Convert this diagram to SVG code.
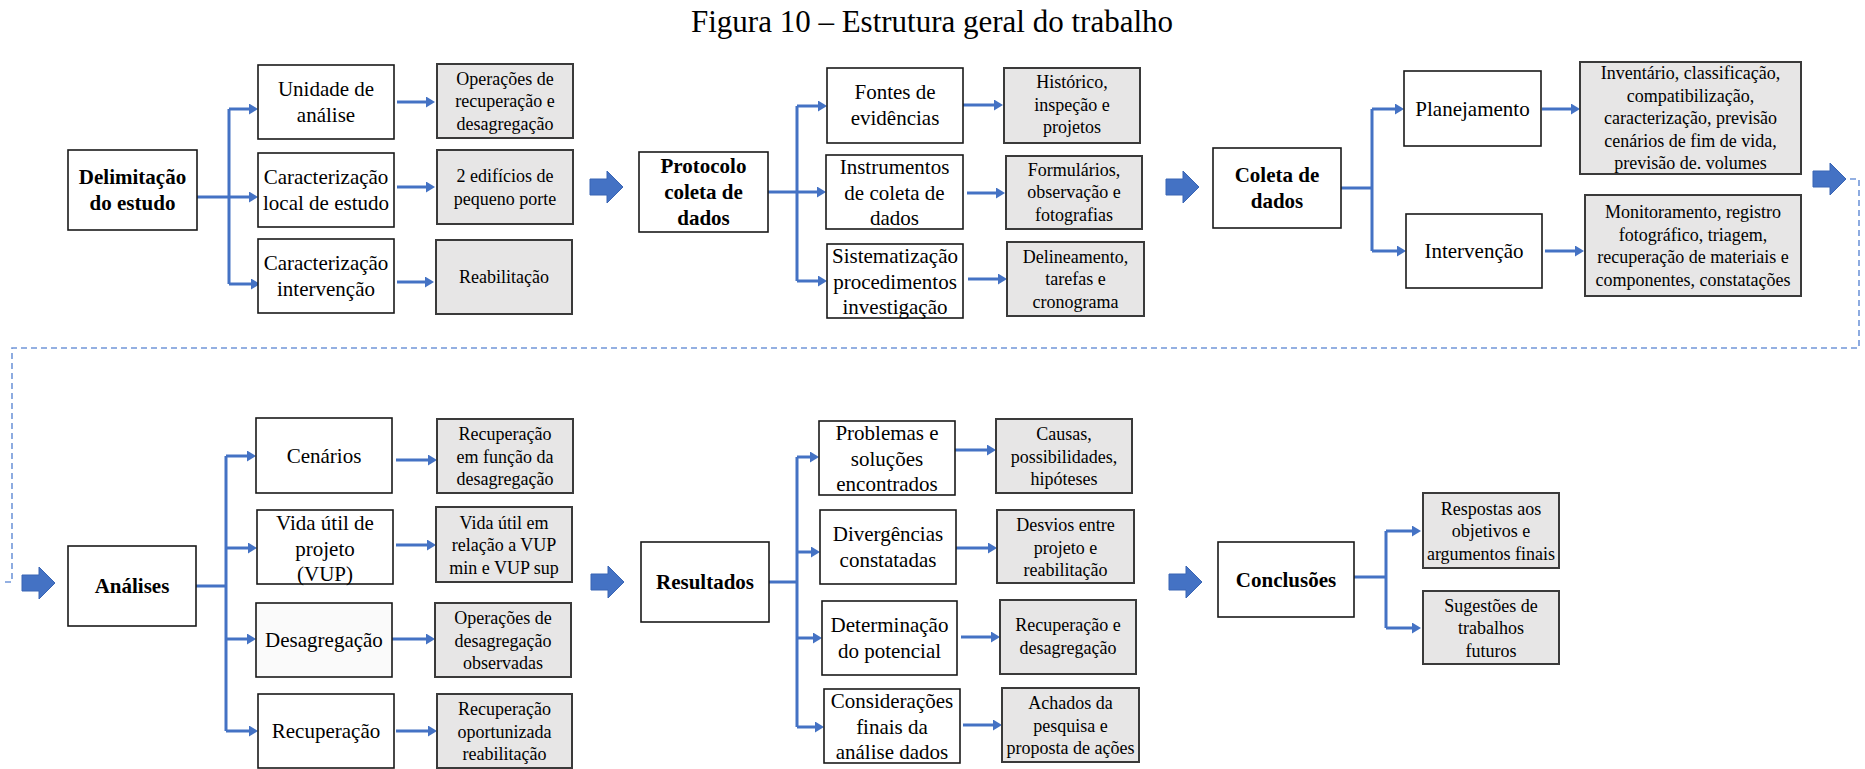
<svg xmlns="http://www.w3.org/2000/svg" xmlns:xlink="http://www.w3.org/1999/xlink" width="1865" height="769" viewBox="0 0 1865 769">
  <style>
    text { font-family: "Liberation Serif", "Times New Roman", serif; fill: #000; text-anchor: middle; }
    .title { font-size: 31px; }
    .t { font-size: 21px; }
    .tb { font-size: 21px; font-weight: bold; }
    .tg { font-size: 18px; }
    .box { fill: #ffffff; stroke: #1a1a1a; stroke-width: 1.6; }
    .gbox { fill: #e7e6e6; stroke: #3a3a3a; stroke-width: 2; }
    .link { fill: none; stroke: #4472c4; stroke-width: 3; }
    .arr { fill: none; stroke: #4472c4; stroke-width: 3; marker-end: url(#head); }
    .blk { fill: #4472c4; stroke: #3864b4; stroke-width: 1; }
    .dash { fill: none; stroke: #7196d9; stroke-width: 1.6; stroke-dasharray: 6 4; }
  </style>
  <defs>
    <marker id="head" markerUnits="userSpaceOnUse" markerWidth="10" markerHeight="11" refX="2" refY="5.5" orient="auto">
      <path d="M0,0 L9,5.5 L0,11 Z" fill="#4472c4"/>
    </marker>
    <path id="blk" d="M0,-8 H17 V-16 L33,0 L17,16 V8 H0 Z"/>
  </defs>

  <rect width="1865" height="769" fill="#ffffff"/>

  <text class="title" x="932" y="32">Figura 10 – Estrutura geral do trabalho</text>

  <!-- flow connectors -->
  <g id="connectors">
    <!-- Delimitação do estudo -->
    <path class="link" d="M197,197 H229 M229,109 V284"/>
    <path class="arr" d="M229,109 H251"/>
    <path class="arr" d="M229,197 H251"/>
    <path class="arr" d="M229,284 H253"/>
    <path class="arr" d="M397,102 H428"/>
    <path class="arr" d="M397,187 H428"/>
    <path class="arr" d="M397,282 H427"/>
    <!-- Protocolo coleta de dados -->
    <path class="link" d="M768,192 H797 M797,106 V281"/>
    <path class="arr" d="M797,106 H820"/>
    <path class="arr" d="M797,192 H819"/>
    <path class="arr" d="M797,281 H820"/>
    <path class="arr" d="M963,105 H996"/>
    <path class="arr" d="M967,193 H998"/>
    <path class="arr" d="M968,279 H1000"/>
    <!-- Coleta de dados -->
    <path class="link" d="M1341,188 H1372 M1372,109 V251"/>
    <path class="arr" d="M1372,109 H1397"/>
    <path class="arr" d="M1372,251 H1399"/>
    <path class="arr" d="M1542,109 H1573"/>
    <path class="arr" d="M1545,251 H1577"/>
    <!-- Análises -->
    <path class="link" d="M196,586 H226 M226,456 V731"/>
    <path class="arr" d="M226,456 H249"/>
    <path class="arr" d="M226,548 H250"/>
    <path class="arr" d="M226,639 H249"/>
    <path class="arr" d="M226,731 H251"/>
    <path class="arr" d="M396,460 H430"/>
    <path class="arr" d="M396,545 H429"/>
    <path class="arr" d="M392,639 H428"/>
    <path class="arr" d="M396,731 H430"/>
    <!-- Resultados -->
    <path class="link" d="M769,582 H797 M797,457 V727"/>
    <path class="arr" d="M797,457 H812"/>
    <path class="arr" d="M797,552 H813"/>
    <path class="arr" d="M797,638 H815"/>
    <path class="arr" d="M797,727 H817"/>
    <path class="arr" d="M955,450 H989"/>
    <path class="arr" d="M956,548 H990"/>
    <path class="arr" d="M961,637 H993"/>
    <path class="arr" d="M963,725 H995"/>
    <!-- Conclusões -->
    <path class="link" d="M1354,577 H1386 M1386,531 V628"/>
    <path class="arr" d="M1386,531 H1414"/>
    <path class="arr" d="M1386,628 H1414"/>
    <!-- stage arrows -->
    <use xlink:href="#blk" class="blk" x="590" y="187"/>
    <use xlink:href="#blk" class="blk" x="1166" y="187"/>
    <use xlink:href="#blk" class="blk" x="1813" y="179"/>
    <use xlink:href="#blk" class="blk" x="22" y="583"/>
    <use xlink:href="#blk" class="blk" x="591" y="582"/>
    <use xlink:href="#blk" class="blk" x="1169" y="582"/>
    <!-- wrap from first row to second row -->
    <path class="dash" d="M1850,179 H1859 V348 H12 V582 H5"/>
  </g>

  <!-- Row 1 -->
  <g id="delimitacao">
    <rect class="box" x="68" y="150" width="129" height="80"/>
    <text class="tb" x="132.5" y="184">Delimitação</text>
    <text class="tb" x="132.5" y="210">do estudo</text>
  </g>
  <g id="unidade">
    <rect class="box" x="258" y="65" width="136" height="74"/>
    <text class="t" x="326" y="96">Unidade de</text>
    <text class="t" x="326" y="122">análise</text>
  </g>
  <g id="caract-local">
    <rect class="box" x="258" y="153" width="136" height="74"/>
    <text class="t" x="326" y="184">Caracterização</text>
    <text class="t" x="326" y="210">local de estudo</text>
  </g>
  <g id="caract-intervencao">
    <rect class="box" x="258" y="239" width="136" height="74"/>
    <text class="t" x="326" y="270">Caracterização</text>
    <text class="t" x="326" y="296">intervenção</text>
  </g>
  <g id="operacoes-rec">
    <rect class="gbox" x="437" y="64" width="136" height="74"/>
    <text class="tg" x="505" y="84.5">Operações de</text>
    <text class="tg" x="505" y="107">recuperação e</text>
    <text class="tg" x="505" y="129.5">desagregação</text>
  </g>
  <g id="edificios">
    <rect class="gbox" x="437" y="150" width="136" height="74"/>
    <text class="tg" x="505" y="182">2 edifícios de</text>
    <text class="tg" x="505" y="204.5">pequeno porte</text>
  </g>
  <g id="reabilitacao">
    <rect class="gbox" x="436" y="240" width="136" height="74"/>
    <text class="tg" x="504" y="283">Reabilitação</text>
  </g>

  <g id="protocolo">
    <rect class="box" x="639" y="152" width="129" height="80"/>
    <text class="tb" x="703.5" y="173">Protocolo</text>
    <text class="tb" x="703.5" y="199">coleta de</text>
    <text class="tb" x="703.5" y="225">dados</text>
  </g>
  <g id="fontes">
    <rect class="box" x="827" y="68" width="136" height="75"/>
    <text class="t" x="895" y="99">Fontes de</text>
    <text class="t" x="895" y="125">evidências</text>
  </g>
  <g id="instrumentos">
    <rect class="box" x="826" y="155" width="137" height="74"/>
    <text class="t" x="894.5" y="174">Instrumentos</text>
    <text class="t" x="894.5" y="199.5">de coleta de</text>
    <text class="t" x="894.5" y="225">dados</text>
  </g>
  <g id="sistematizacao">
    <rect class="box" x="827" y="244" width="136" height="74"/>
    <text class="t" x="895" y="263">Sistematização</text>
    <text class="t" x="895" y="288.5">procedimentos</text>
    <text class="t" x="895" y="314">investigação</text>
  </g>
  <g id="historico">
    <rect class="gbox" x="1004" y="68" width="136" height="75"/>
    <text class="tg" x="1072" y="88">Histórico,</text>
    <text class="tg" x="1072" y="110.5">inspeção e</text>
    <text class="tg" x="1072" y="133">projetos</text>
  </g>
  <g id="formularios">
    <rect class="gbox" x="1006" y="156" width="136" height="73"/>
    <text class="tg" x="1074" y="175.5">Formulários,</text>
    <text class="tg" x="1074" y="198">observação e</text>
    <text class="tg" x="1074" y="220.5">fotografias</text>
  </g>
  <g id="delineamento">
    <rect class="gbox" x="1007" y="242" width="137" height="74"/>
    <text class="tg" x="1075.5" y="262.5">Delineamento,</text>
    <text class="tg" x="1075.5" y="285">tarefas e</text>
    <text class="tg" x="1075.5" y="307.5">cronograma</text>
  </g>

  <g id="coleta">
    <rect class="box" x="1213" y="148" width="128" height="80"/>
    <text class="tb" x="1277" y="182">Coleta de</text>
    <text class="tb" x="1277" y="208">dados</text>
  </g>
  <g id="planejamento">
    <rect class="box" x="1404" y="71" width="137" height="75"/>
    <text class="t" x="1472.5" y="116">Planejamento</text>
  </g>
  <g id="intervencao">
    <rect class="box" x="1406" y="214" width="136" height="74"/>
    <text class="t" x="1474" y="258">Intervenção</text>
  </g>
  <g id="inventario">
    <rect class="gbox" x="1580" y="62" width="221" height="112"/>
    <text class="tg" x="1690.5" y="79">Inventário, classificação,</text>
    <text class="tg" x="1690.5" y="101.5">compatibilização,</text>
    <text class="tg" x="1690.5" y="124">caracterização, previsão</text>
    <text class="tg" x="1690.5" y="146.5">cenários de fim de vida,</text>
    <text class="tg" x="1690.5" y="169">previsão de. volumes</text>
  </g>
  <g id="monitoramento">
    <rect class="gbox" x="1585" y="195" width="216" height="101"/>
    <text class="tg" x="1693" y="218">Monitoramento, registro</text>
    <text class="tg" x="1693" y="240.5">fotográfico, triagem,</text>
    <text class="tg" x="1693" y="263">recuperação de materiais e</text>
    <text class="tg" x="1693" y="285.5">componentes, constatações</text>
  </g>

  <!-- Row 2 -->
  <g id="analises">
    <rect class="box" x="68" y="546" width="128" height="80"/>
    <text class="tb" x="132" y="593">Análises</text>
  </g>
  <g id="cenarios">
    <rect class="box" x="256" y="418" width="136" height="75"/>
    <text class="t" x="324" y="463">Cenários</text>
  </g>
  <g id="vida-util">
    <rect class="box" x="257" y="510" width="136" height="74"/>
    <text class="t" x="325" y="530">Vida útil de</text>
    <text class="t" x="325" y="556">projeto</text>
    <text class="t" x="325" y="581">(VUP)</text>
  </g>
  <g id="desagregacao">
    <rect class="box" x="256" y="603" width="136" height="74" style="fill:#fafafa"/>
    <text class="t" x="324" y="647">Desagregação</text>
  </g>
  <g id="recuperacao">
    <rect class="box" x="258" y="694" width="136" height="74"/>
    <text class="t" x="326" y="738">Recuperação</text>
  </g>
  <g id="rec-funcao">
    <rect class="gbox" x="437" y="419" width="136" height="74"/>
    <text class="tg" x="505" y="440">Recuperação</text>
    <text class="tg" x="505" y="462.5">em função da</text>
    <text class="tg" x="505" y="485">desagregação</text>
  </g>
  <g id="vida-util-vup">
    <rect class="gbox" x="436" y="507" width="136" height="75"/>
    <text class="tg" x="504" y="528.5">Vida útil em</text>
    <text class="tg" x="504" y="551">relação a VUP</text>
    <text class="tg" x="504" y="573.5">min e VUP sup</text>
  </g>
  <g id="operacoes-des">
    <rect class="gbox" x="435" y="603" width="136" height="74"/>
    <text class="tg" x="503" y="624">Operações de</text>
    <text class="tg" x="503" y="646.5">desagregação</text>
    <text class="tg" x="503" y="669">observadas</text>
  </g>
  <g id="rec-oportunizada">
    <rect class="gbox" x="437" y="694" width="135" height="74"/>
    <text class="tg" x="504.5" y="715">Recuperação</text>
    <text class="tg" x="504.5" y="737.5">oportunizada</text>
    <text class="tg" x="504.5" y="760">reabilitação</text>
  </g>

  <g id="resultados">
    <rect class="box" x="641" y="542" width="128" height="80"/>
    <text class="tb" x="705" y="589">Resultados</text>
  </g>
  <g id="problemas">
    <rect class="box" x="819" y="421" width="136" height="74"/>
    <text class="t" x="887" y="440">Problemas e</text>
    <text class="t" x="887" y="465.5">soluções</text>
    <text class="t" x="887" y="491">encontrados</text>
  </g>
  <g id="divergencias">
    <rect class="box" x="820" y="510" width="136" height="74"/>
    <text class="t" x="888" y="541">Divergências</text>
    <text class="t" x="888" y="567">constatadas</text>
  </g>
  <g id="determinacao">
    <rect class="box" x="822" y="601" width="135" height="74"/>
    <text class="t" x="889.5" y="632">Determinação</text>
    <text class="t" x="889.5" y="658">do potencial</text>
  </g>
  <g id="consideracoes">
    <rect class="box" x="824" y="689" width="136" height="74"/>
    <text class="t" x="892" y="708">Considerações</text>
    <text class="t" x="892" y="733.5">finais da</text>
    <text class="t" x="892" y="759">análise dados</text>
  </g>
  <g id="causas">
    <rect class="gbox" x="996" y="419" width="136" height="74"/>
    <text class="tg" x="1064" y="440">Causas,</text>
    <text class="tg" x="1064" y="462.5">possibilidades,</text>
    <text class="tg" x="1064" y="485">hipóteses</text>
  </g>
  <g id="desvios">
    <rect class="gbox" x="997" y="510" width="137" height="73"/>
    <text class="tg" x="1065.5" y="531">Desvios entre</text>
    <text class="tg" x="1065.5" y="553.5">projeto e</text>
    <text class="tg" x="1065.5" y="576">reabilitação</text>
  </g>
  <g id="rec-desagregacao">
    <rect class="gbox" x="1000" y="600" width="136" height="74"/>
    <text class="tg" x="1068" y="631">Recuperação e</text>
    <text class="tg" x="1068" y="653.5">desagregação</text>
  </g>
  <g id="achados">
    <rect class="gbox" x="1002" y="688" width="137" height="74"/>
    <text class="tg" x="1070.5" y="709">Achados da</text>
    <text class="tg" x="1070.5" y="731.5">pesquisa e</text>
    <text class="tg" x="1070.5" y="754">proposta de ações</text>
  </g>

  <g id="conclusoes">
    <rect class="box" x="1218" y="542" width="136" height="75"/>
    <text class="tb" x="1286" y="587">Conclusões</text>
  </g>
  <g id="respostas">
    <rect class="gbox" x="1423" y="493" width="136" height="75"/>
    <text class="tg" x="1491" y="514.5">Respostas aos</text>
    <text class="tg" x="1491" y="537">objetivos e</text>
    <text class="tg" x="1491" y="559.5">argumentos finais</text>
  </g>
  <g id="sugestoes">
    <rect class="gbox" x="1423" y="591" width="136" height="73"/>
    <text class="tg" x="1491" y="611.5">Sugestões de</text>
    <text class="tg" x="1491" y="634">trabalhos</text>
    <text class="tg" x="1491" y="656.5">futuros</text>
  </g>
</svg>
